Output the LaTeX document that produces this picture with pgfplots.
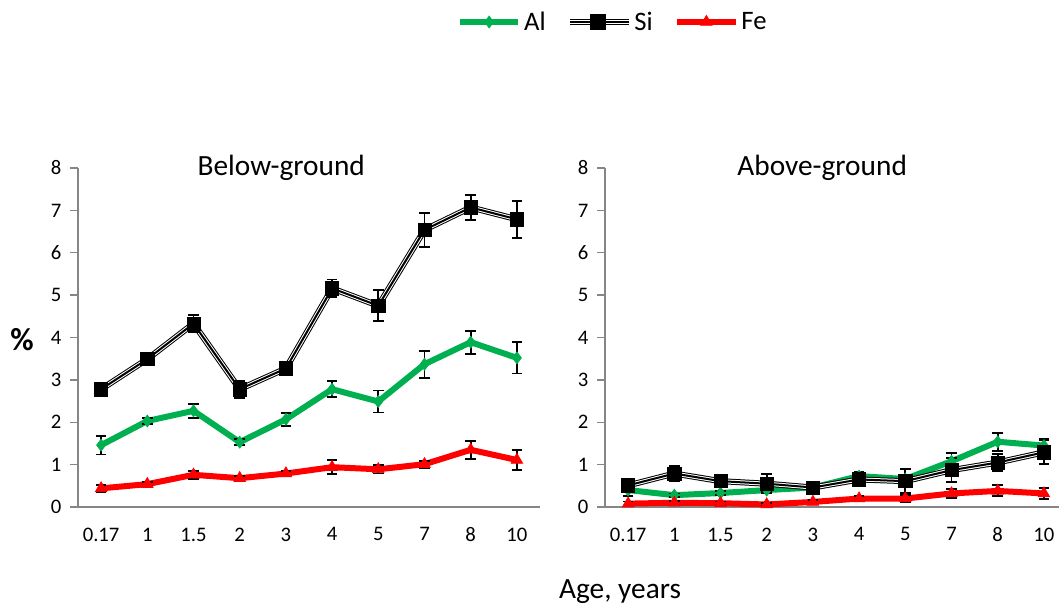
\documentclass[border=0pt]{standalone}
\usepackage{pgfplots}
\pgfplotsset{compat=1.18}
\usepackage{pgfplotstable}
\usepackage{fontspec}
\setmainfont{Carlito}
\definecolor{algreen}{RGB}{0,176,80}
\definecolor{axgray}{RGB}{134,134,134}

\pgfplotstableread{
x al ale si sie fe fee
0 1.46 0.22 2.78 0.06 0.44 0.08
1 2.03 0.08 3.49 0.15 0.54 0.05
2 2.27 0.16 4.33 0.21 0.76 0.10
3 1.53 0.07 2.78 0.20 0.68 0.06
4 2.07 0.15 3.27 0.07 0.79 0.06
5 2.78 0.19 5.16 0.21 0.94 0.16
6 2.49 0.26 4.75 0.37 0.89 0.10
7 3.37 0.32 6.54 0.40 1.01 0.08
8 3.89 0.27 7.07 0.29 1.35 0.21
9 3.52 0.37 6.79 0.44 1.11 0.23
}\below

\pgfplotstableread{
x al ale si sie fe fee
0 0.40 0.14 0.51 0.05 0.08 0.05
1 0.28 0.04 0.79 0.18 0.10 0.04
2 0.33 0.04 0.61 0.06 0.09 0.04
3 0.40 0.04 0.55 0.23 0.06 0.03
4 0.46 0.04 0.46 0.06 0.12 0.04
5 0.73 0.10 0.65 0.10 0.20 0.05
6 0.66 0.05 0.61 0.28 0.20 0.08
7 1.08 0.20 0.87 0.28 0.32 0.10
8 1.54 0.21 1.05 0.20 0.38 0.13
9 1.45 0.16 1.29 0.28 0.32 0.13
}\above

\pgfplotsset{
  errstyle/.style={error bars/.cd, y dir=both, y explicit,
      error bar style={black, line width=1.4pt, solid},
      error mark options={black, rotate=90, mark size=4pt, line width=1.4pt}},
  panel/.style={
    scale only axis,
    width=346.5pt, height=254.25pt,
    xmin=-0.5, xmax=9.5, ymin=0, ymax=8,
    axis x line=bottom, axis y line=left,
    axis line style={axgray, line width=1pt, -},
    xtick={0,...,9},
    xticklabels={0.17,1,1.5,2,3,4,5,7,8,10},
    major x tick style={draw=none},
    extra x ticks={-0.5,0.5,1.5,2.5,3.5,4.5,5.5,6.5,7.5,8.5,9.5},
    extra x tick labels={},
    extra x tick style={tick style={axgray, line width=1pt}, major tick length=7pt, tick align=outside},
    ytick={0,...,8},
    ytick style={axgray, line width=1pt},
    major tick length=6pt,
    tick align=outside,
    tick pos=left,
    /pgf/number format/assume math mode=true,
    tick label style={font=\fontsize{15.5}{18}\selectfont},
    xticklabel style={yshift=-6pt},
    yticklabel style={xshift=-3pt},
    clip=false,
  },
  alstyle/.style={algreen, line width=4.5pt, mark=diamond*, mark size=4.5pt, mark options={solid, line width=0.5pt}},
  festyle/.style={red, line width=4.5pt, mark=triangle*, mark size=5pt, mark options={solid, line width=0.5pt}},
  sistyle/.style={black, line width=1.5pt, mark=square*, mark size=5pt, mark options={solid, line width=0.5pt}},
}

\begin{document}
\begin{tikzpicture}
\useasboundingbox (0,0) rectangle (794.25pt,-456pt);

\begin{axis}[panel, at={(58.5pt,-380.25pt)}, anchor=south west,
  legend columns=3,
  legend style={draw=none, fill=none, at={(1.158,1.4307)}, anchor=center,
    font=\fontsize{20}{24}\selectfont, /tikz/every even column/.append style={column sep=14pt}},
  legend image code/.code={\draw[#1, mark repeat=2, mark phase=2] plot coordinates {(0pt,0pt) (22pt,0pt) (44pt,0pt)};},
]
\addplot[alstyle, errstyle] table[x=x, y=al, y error=ale] {\below};
\addlegendentry{Al}
\addplot[black, line width=4.5pt, forget plot] table[x=x, y=si] {\below};
\addplot[white, line width=3pt, forget plot] table[x=x, y=si] {\below};
\addplot[sistyle,
  legend image code/.code={
    \draw[black, line width=4.5pt] (0pt,0pt) -- (44pt,0pt);
    \draw[white, line width=3pt] (0pt,0pt) -- (44pt,0pt);
    \draw[black, line width=1.5pt] (0pt,0pt) -- (44pt,0pt);
    \fill[black] (16pt,-5pt) rectangle (26pt,5pt);
  }, errstyle] table[x=x, y=si, y error=sie] {\below};
\addlegendentry{Si}
\addplot[festyle, errstyle] table[x=x, y=fe, y error=fee] {\below};
\addlegendentry{Fe}
\node[font=\fontsize{22}{26}\selectfont] at (axis cs:3.9,8) {Below-ground};
\end{axis}

\begin{axis}[panel, at={(453.75pt,-380.25pt)}, anchor=south west]
\addplot[alstyle, errstyle] table[x=x, y=al, y error=ale] {\above};
\addplot[black, line width=4.5pt] table[x=x, y=si] {\above};
\addplot[white, line width=3pt] table[x=x, y=si] {\above};
\addplot[sistyle, errstyle] table[x=x, y=si, y error=sie] {\above};
\addplot[festyle, errstyle] table[x=x, y=fe, y error=fee] {\above};
\node[font=\fontsize{22}{26}\selectfont] at (axis cs:4.2,8) {Above-ground};
\end{axis}

\node[font=\bfseries\fontsize{24}{28}\selectfont] at (16.5pt,-255pt) {\%};
\node[font=\fontsize{22}{26}\selectfont] at (465pt,-444pt) {Age, years};
\end{tikzpicture}
\end{document}
